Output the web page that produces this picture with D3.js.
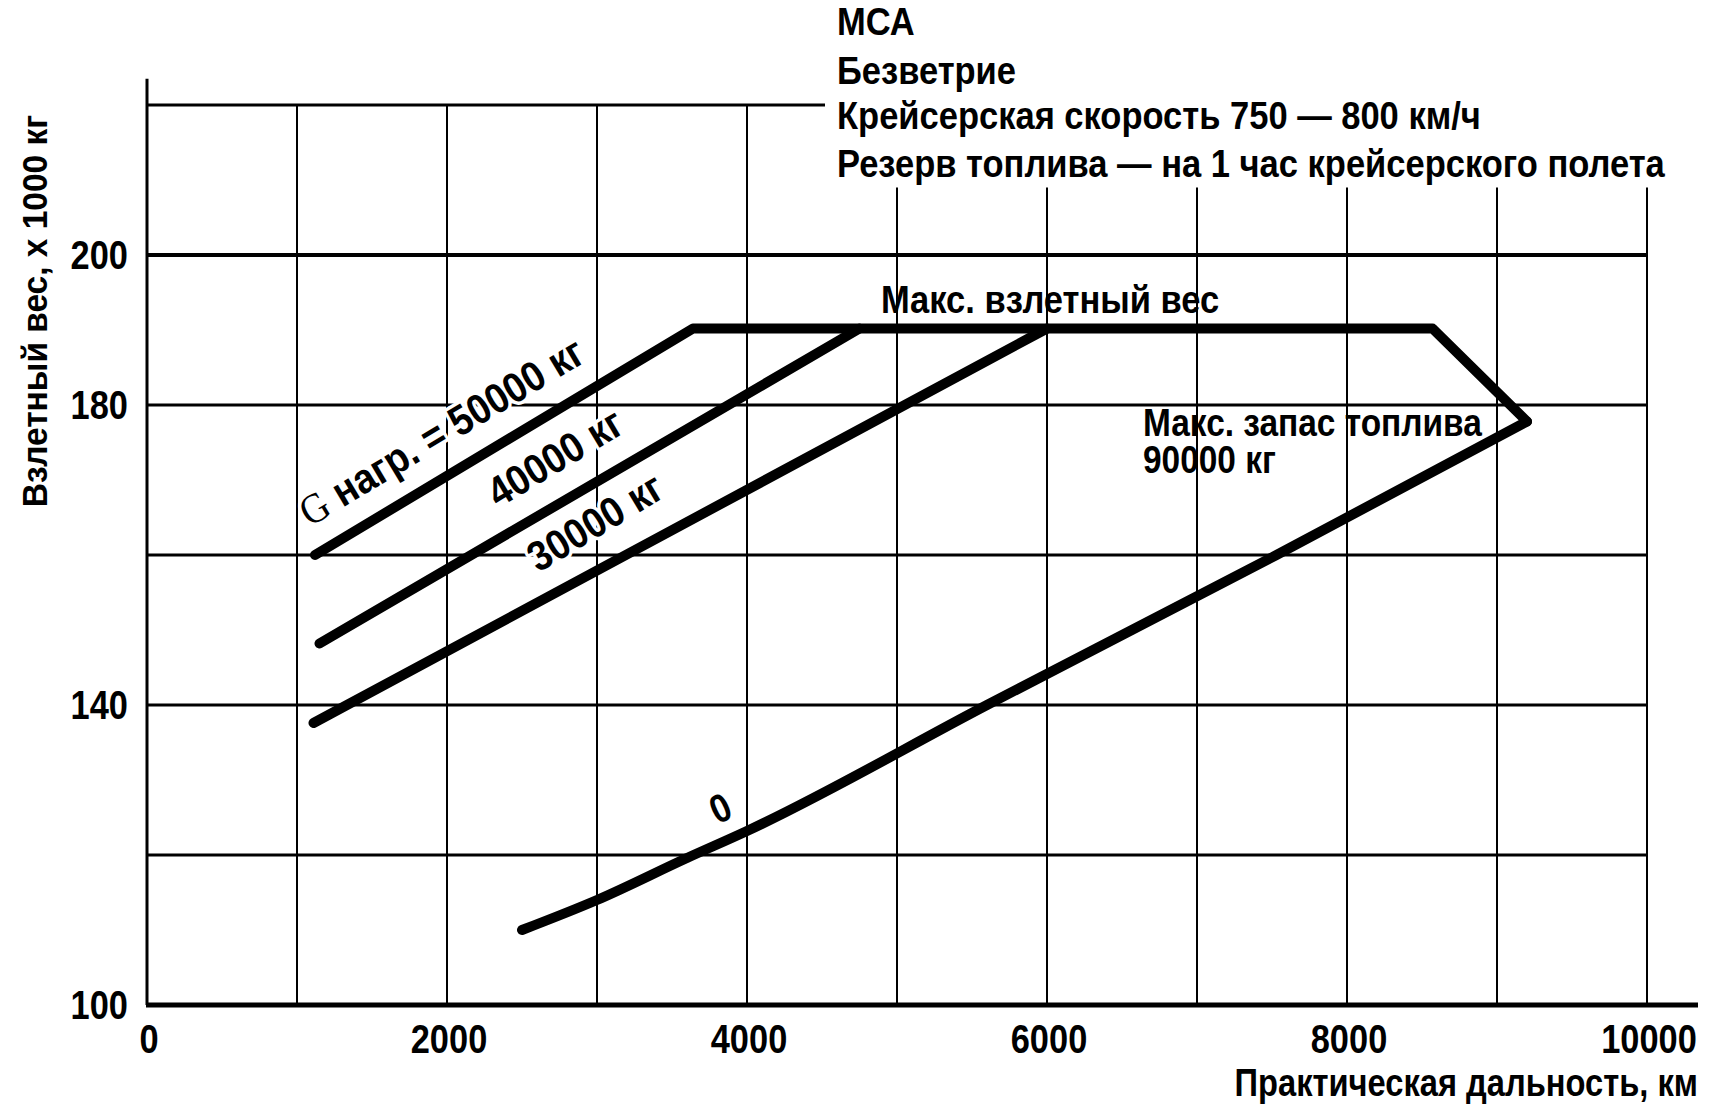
<!DOCTYPE html>
<html>
<head>
<meta charset="utf-8">
<script src="https://cdn.jsdelivr.net/npm/d3@7"></script>
<style>
  body { margin: 0; background: #fff; }
  svg { display: block; }
  text { font-family: "Liberation Sans", Arial, sans-serif; font-weight: bold; fill: #000; }
  .grid line { stroke: #000; }
  .curve { fill: none; stroke: #000; stroke-width: 10; stroke-linecap: round; stroke-linejoin: round; }
  .halo { stroke: #fff; stroke-width: 7; paint-order: stroke; stroke-linejoin: round; }
</style>
</head>
<body>
<div id="drawingArea"></div>
<script>
// chart values
var xTicks = [0, 2000, 4000, 6000, 8000, 10000];
var yTicks = [100, 140, 180, 200];
var gridX = [1000, 2000, 3000, 4000, 5000, 6000, 7000, 8000, 9000, 10000];
var gridY = [120, 140, 160, 180, 200];

// range (km), takeoff weight (x1000 kg)
var payload50 = [[1120, 160], [3640, 190.2]];
var payload40 = [[1150, 148.2], [4750, 190.2]];
var payload30 = [[1110, 137.6], [6000, 190.2]];
var maxTakeoff = [[3640, 190.2], [8570, 190.2]];
var maxFuel = [[8570, 190.2], [9200, 177.8]];
var payload0 = [[2500, 110], [3000, 114], [3600, 119.6], [4000, 123.2], [5600, 140], [7530, 160], [9200, 177.8]];

var headerLines = ["МСА", "Безветрие", "Крейсерская скорость 750 — 800 км/ч", "Резерв топлива — на 1 час крейсерского полета"];
var curveLabels = [
    {lead: "G", text: " нагр. = 50000 кг", x: 1087, y: 163.7},
    {lead: "", text: "40000 кг", x: 2342, y: 166.2},
    {lead: "", text: "30000 кг", x: 2609, y: 157.6}
];
var zeroLabel = {text: "0", x: 3820, y: 126.3};
var fuelLabel = ["Макс. запас топлива", "90000 кг"];

var width = 1723, height = 1104;
var squeeze = 0.86;   // condensed type, as in the original

// set the ranges
var x = d3.scaleLinear().domain([0, 10000]).range([147, 1647]);
var y = d3.scaleLinear().domain([100, 200]).range([1005, 255]);

var svg = d3.select("#drawingArea").append("svg")
    .attr("width", width)
    .attr("height", height);

// condensed text: translate, rotate, then squeeze along the line of text
function narrowText(parent, px, py, str, size, anchor, angle, cls, sq) {
    var g = parent.append("g")
        .attr("transform", "translate(" + px + "," + py + ")" +
              (angle ? " rotate(" + angle + ")" : "") +
              " scale(" + (sq || squeeze) + ",1)");
    var t = g.append("text")
        .style("font-size", size + "px")
        .style("text-anchor", anchor || "start");
    if (cls) t.attr("class", cls);
    if (str != null) t.text(str);
    return t;
}

// horizontal gridlines
var grid = svg.append("g").attr("class", "grid");
grid.selectAll(".h")
    .data(gridY)
  .enter().append("line")
    .attr("x1", x(0))
    .attr("x2", x(10000))
    .attr("y1", function(d) { return y(d); })
    .attr("y2", function(d) { return y(d); })
    .style("stroke-width", function(d) { return d == 200 ? 4 : 3; });

// top line only runs up to the header text
grid.append("line")
    .attr("x1", x(0)).attr("x2", x(4520))
    .attr("y1", y(220)).attr("y2", y(220))
    .style("stroke-width", 3);

// vertical gridlines (the right ones start under the header)
grid.selectAll(".v")
    .data(gridX)
  .enter().append("line")
    .attr("x1", function(d) { return x(d); })
    .attr("x2", function(d) { return x(d); })
    .attr("y1", y(100))
    .attr("y2", function(d) { return d <= 4000 ? y(220) : y(209); })
    .style("stroke-width", 2);

// axes
svg.append("line")
    .attr("x1", x(0)).attr("x2", x(0))
    .attr("y1", y(100)).attr("y2", y(223.5))
    .style("stroke", "#000").style("stroke-width", 3);
svg.append("line")
    .attr("x1", x(0) - 1).attr("x2", x(10340))
    .attr("y1", y(100)).attr("y2", y(100))
    .style("stroke", "#000").style("stroke-width", 5);

// tick labels
xTicks.forEach(function(d) {
    narrowText(svg, x(d) + 2, y(100) + 48, d, 40, "middle");
});
yTicks.forEach(function(d) {
    narrowText(svg, x(0) - 19, y(d) + 14, d, 40, "end");
});

// axis titles
svg.append("g")
    .attr("transform", "translate(47,311) rotate(-90) scale(0.93,1)")
  .append("text")
    .style("text-anchor", "middle")
    .style("font-size", "36px")
    .text("Взлетный вес, х 1000 кг");

narrowText(svg, x(10340), 1096, "Практическая дальность, км", 38, "end");

// header block
var headerY = [35, 83.5, 128.6, 177];
headerLines.forEach(function(d, i) {
    narrowText(svg, 837, headerY[i], d, 39, "start", 0, null, 0.885);
});

// curve labels
curveLabels.forEach(function(l) {
    var t = narrowText(svg, x(l.x), y(l.y), null, 42, "start", -31, "halo", 0.9);
    if (l.lead) {
        t.append("tspan")
            .style("font-family", "'Liberation Serif', 'DejaVu Serif', serif")
            .style("font-weight", "normal")
            .text(l.lead);
    }
    t.append("tspan").text(l.text);
});

narrowText(svg, x(zeroLabel.x), y(zeroLabel.y), zeroLabel.text, 40, "middle", -25, "halo")
    .attr("dy", "0.36em");

narrowText(svg, x(4893), y(192.3), "Макс. взлетный вес", 39, "start", 0, null, 0.885);

var fuel = narrowText(svg, x(6640), y(175.9), null, 38, "start", 0, null, 0.88);
fuel.selectAll("tspan")
    .data(fuelLabel)
  .enter().append("tspan")
    .attr("x", 0)
    .attr("dy", function(d, i) { return i ? y(170.9) - y(175.9) : 0; })
    .text(function(d) { return d; });

// define the lines
var valueline = d3.line()
    .x(function(d) { return x(d[0]); })
    .y(function(d) { return y(d[1]); });

var smoothline = d3.line()
    .curve(d3.curveMonotoneX)
    .x(function(d) { return x(d[0]); })
    .y(function(d) { return y(d[1]); });

// envelope: 50000 kg line, max takeoff weight, max fuel
var envelope = payload50.concat(maxTakeoff.slice(1), maxFuel.slice(1));
svg.append("path")
    .data([envelope])
    .attr("class", "curve")
    .attr("d", valueline);

// zero payload line
svg.append("path")
    .data([payload0])
    .attr("class", "curve")
    .attr("d", smoothline);

[payload40, payload30].forEach(function(p) {
    svg.append("path")
        .data([p])
        .attr("class", "curve")
        .attr("d", valueline);
});
</script>
</body>
</html>
